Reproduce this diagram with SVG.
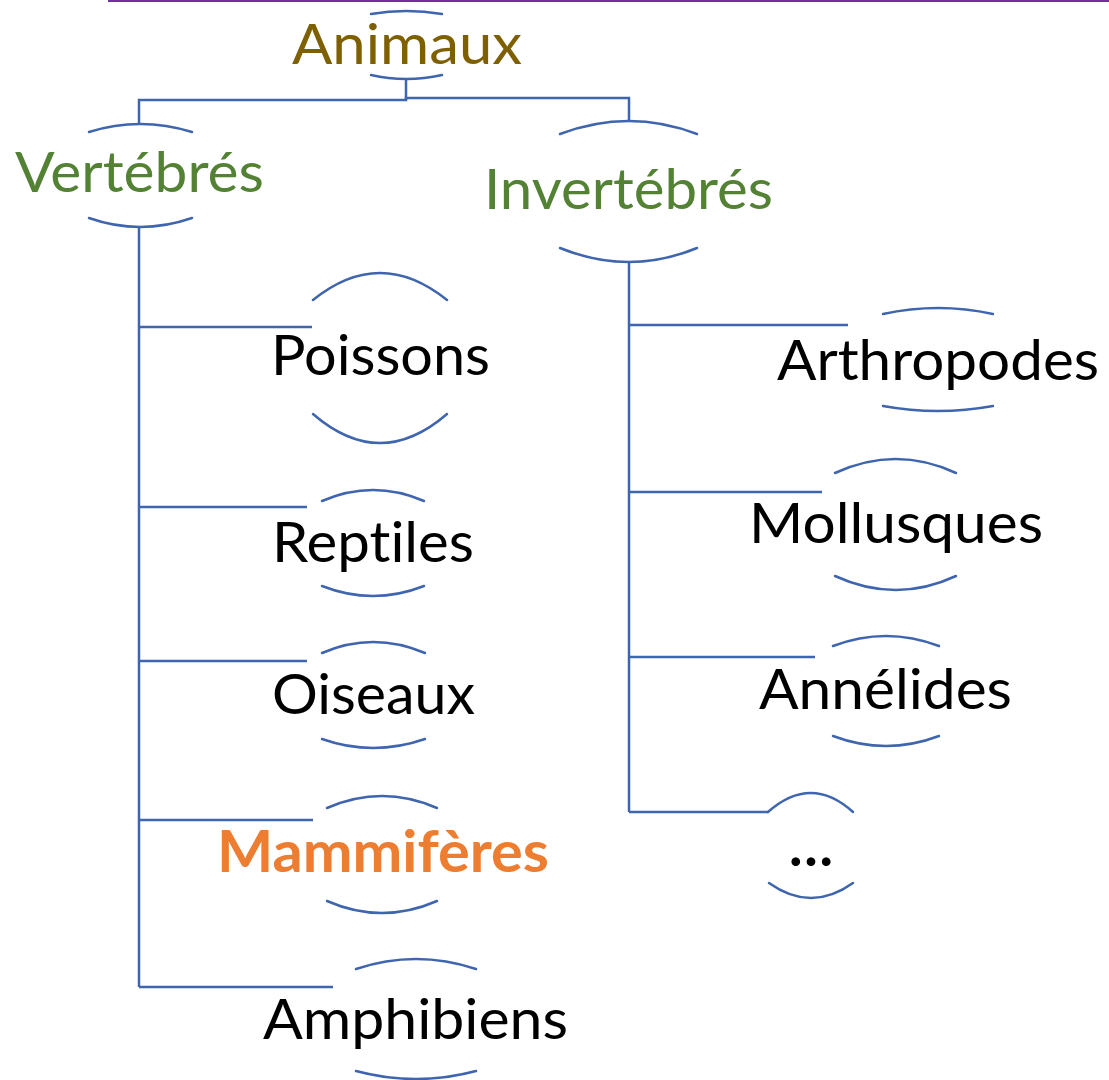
<svg xmlns="http://www.w3.org/2000/svg" width="1109" height="1080" viewBox="0 0 1109 1080">
<style>
.arc{fill:none;stroke:#3F65AE;stroke-width:2.5;stroke-linecap:round}
.conn{fill:none;stroke:#3F65AE;stroke-width:2.5}
.t{font-family:Lato,"Open Sans","Liberation Sans",sans-serif;font-size:57px;fill:#000;font-variant-ligatures:none;font-feature-settings:"liga" 0,"clig" 0}
.green{fill:#548235}
.gold{fill:#7F6000}
.orange{fill:#ED7D31;font-weight:bold}
</style>
<rect width="1109" height="1080" fill="#fff"/>
<line x1="108" y1="1" x2="1109" y2="1" stroke="#7030A0" stroke-width="2"/>
<g id="connectors">
<polyline class="conn" points="406,79 406,100 139,100 139,124"/>
<polyline class="conn" points="406,100 406,98 629,98 629,121"/>
<line class="conn" x1="139" y1="227" x2="139" y2="987"/>
<line class="conn" x1="139" y1="327" x2="312" y2="327"/>
<line class="conn" x1="139" y1="507" x2="307" y2="507"/>
<line class="conn" x1="139" y1="661" x2="307" y2="661"/>
<line class="conn" x1="139" y1="820" x2="313" y2="820"/>
<line class="conn" x1="139" y1="987" x2="333" y2="987"/>
<line class="conn" x1="629" y1="262" x2="629" y2="812"/>
<line class="conn" x1="629" y1="325" x2="848" y2="325"/>
<line class="conn" x1="629" y1="492" x2="822" y2="492"/>
<line class="conn" x1="629" y1="657" x2="815" y2="657"/>
<line class="conn" x1="629" y1="812" x2="768" y2="812"/>
</g>
<g id="animaux">
<path class="arc" d="M371,14 Q406,8 442,14"/>
<path class="arc" d="M371,75 Q406,83 442,75"/>
<text class="t gold" x="292" y="64" textLength="230" lengthAdjust="spacingAndGlyphs">Animaux</text>
</g>
<g id="vertebres">
<path class="arc" d="M89,132 Q140,116 192,132"/>
<path class="arc" d="M89,218 Q140,236 192,218"/>
<text class="t green" x="15" y="192" textLength="249" lengthAdjust="spacingAndGlyphs">Vertébrés</text>
</g>
<g id="invertebres">
<path class="arc" d="M560,134 Q629,108 697,134"/>
<path class="arc" d="M560,248 Q629,276 697,248"/>
<text class="t green" x="484" y="209" textLength="289" lengthAdjust="spacingAndGlyphs">Invertébrés</text>
</g>
<g id="poissons">
<path class="arc" d="M313,300 Q380,246 447,300"/>
<path class="arc" d="M313,414 Q380,472 447,414"/>
<text class="t" x="271" y="375" textLength="219" lengthAdjust="spacingAndGlyphs">Poissons</text>
</g>
<g id="reptiles">
<path class="arc" d="M322,501 Q373,479 424,501"/>
<path class="arc" d="M322,586 Q373,606 424,586"/>
<text class="t" x="272" y="562" textLength="202" lengthAdjust="spacingAndGlyphs">Reptiles</text>
</g>
<g id="oiseaux">
<path class="arc" d="M322,653 Q373,631 425,653"/>
<path class="arc" d="M322,739 Q373,757 425,739"/>
<text class="t" x="272" y="714" textLength="203" lengthAdjust="spacingAndGlyphs">Oiseaux</text>
</g>
<g id="mammiferes">
<path class="arc" d="M327,808 Q382,784 437,808"/>
<path class="arc" d="M327,901 Q382,925 437,901"/>
<text class="t orange" x="217" y="872" textLength="332" lengthAdjust="spacingAndGlyphs">Mammifères</text>
</g>
<g id="amphibiens">
<path class="arc" d="M356,969 Q416,949 476,969"/>
<path class="arc" d="M356,1071 Q416,1087 476,1071"/>
<text class="t" x="263" y="1039" textLength="305" lengthAdjust="spacingAndGlyphs">Amphibiens</text>
</g>
<g id="arthropodes">
<path class="arc" d="M883,314 Q938,302 993,314"/>
<path class="arc" d="M883,406 Q938,416 993,406"/>
<text class="t" x="777" y="380" textLength="322" lengthAdjust="spacingAndGlyphs">Arthropodes</text>
</g>
<g id="mollusques">
<path class="arc" d="M835,473 Q896,445 956,473"/>
<path class="arc" d="M835,576 Q896,604 956,576"/>
<text class="t" x="749" y="543" textLength="294" lengthAdjust="spacingAndGlyphs">Mollusques</text>
</g>
<g id="annelides">
<path class="arc" d="M833,646 Q886,626 939,646"/>
<path class="arc" d="M833,736 Q886,756 939,736"/>
<text class="t" x="759" y="709" textLength="253" lengthAdjust="spacingAndGlyphs">Annélides</text>
</g>
<g id="etc">
<path class="arc" d="M768,812 Q811,774 853,812"/>
<path class="arc" d="M769,883 Q811,913 853,883"/>
<text class="t" x="811" y="866" text-anchor="middle" font-weight="bold">…</text>
</g>
</svg>
